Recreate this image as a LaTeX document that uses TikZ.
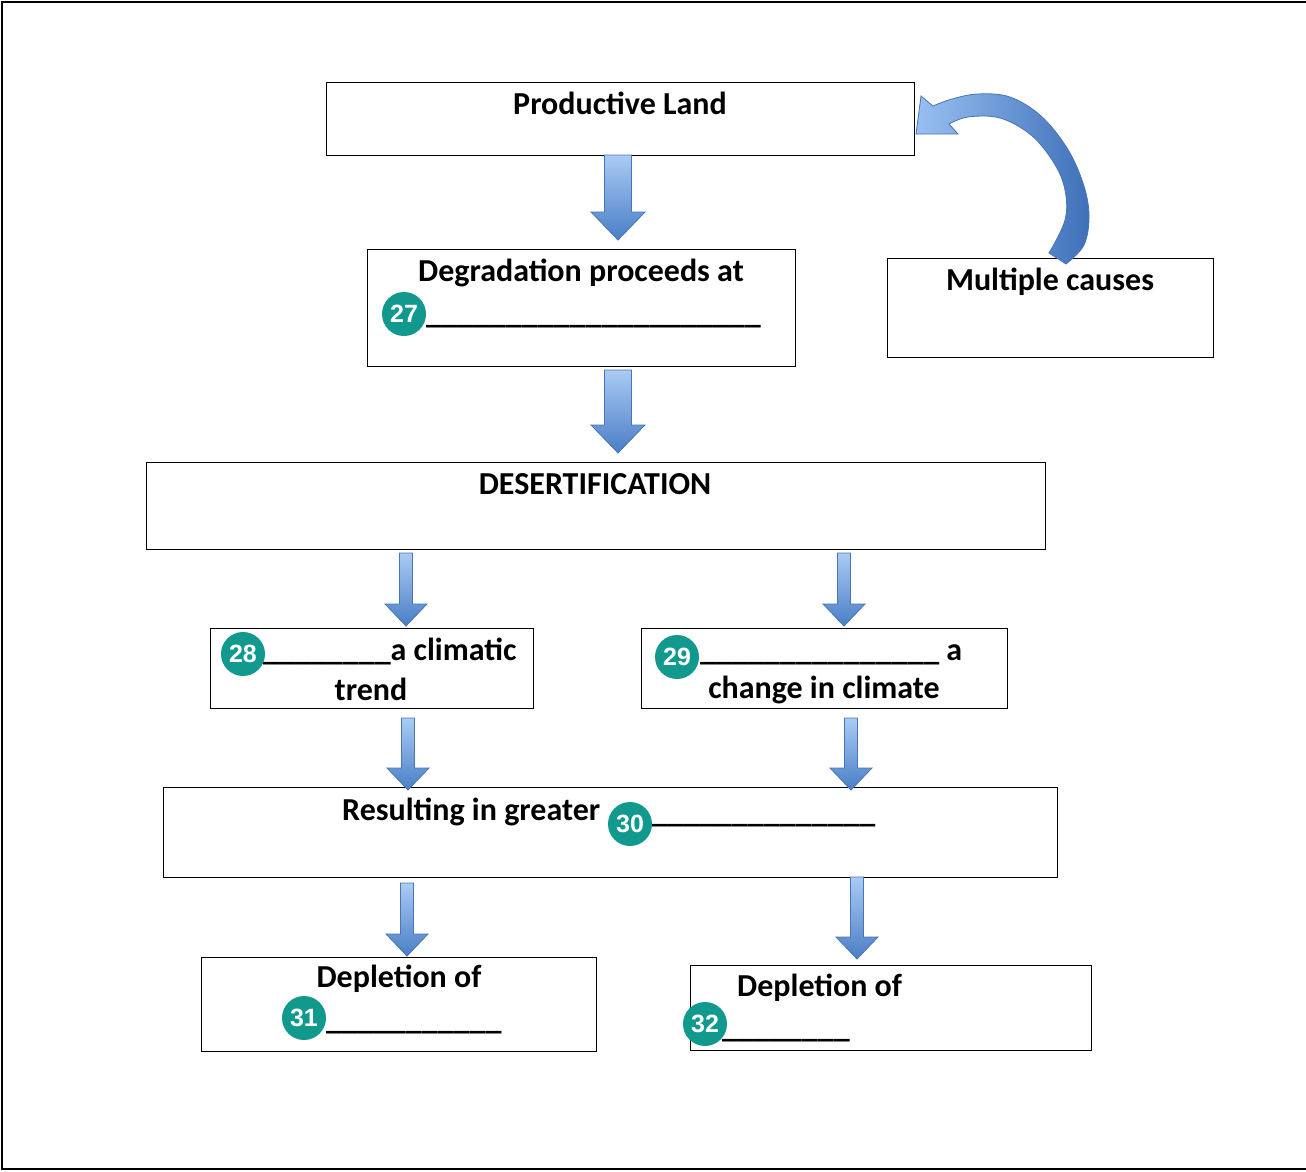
\documentclass[tikz,border=0pt]{standalone}
\usepackage{fontspec}
\setmainfont{Carlito}
\newfontfamily\numfont{Liberation Sans}
\definecolor{tealc}{HTML}{11998E}
\definecolor{arrtop}{HTML}{AACBF4}
\definecolor{arrbot}{HTML}{4A7EC6}
\definecolor{arredge}{HTML}{4775B6}
\definecolor{curvlight}{HTML}{98C0F2}
\definecolor{curvdark}{HTML}{3F70B8}
\newcommand\barrowbig[3]{%
  \path[arrowfill] (#1-13.5,#2) -- (#1+13.5,#2) -- (#1+13.5,#3-28) -- (#1+27,#3-28) -- (#1,#3) -- (#1-27,#3-28) -- (#1-13.5,#3-28) -- cycle;}
\newcommand\barrowsmall[3]{%
  \path[arrowfill] (#1-6.5,#2) -- (#1+6.5,#2) -- (#1+6.5,#3-22) -- (#1+21,#3-22) -- (#1,#3) -- (#1-21,#3-22) -- (#1-6.5,#3-22) -- cycle;}
\begin{document}
\begin{tikzpicture}[x=1pt,y=-1pt,
  box/.style={draw=black, line width=1.6pt, anchor=north west, inner sep=0pt},
  lbl/.style={font=\fontsize{32}{38}\selectfont\bfseries, inner sep=0pt, anchor=base},
  lblw/.style={lbl, anchor=base west},
  num/.style={circle, fill=tealc, text=white, minimum size=44pt, inner sep=0pt,
    font=\numfont\bfseries\fontsize{25}{25}\selectfont},
  arrowfill/.style={top color=arrtop, bottom color=arrbot, draw=arredge, line width=0.8pt}]
\useasboundingbox (0,0) rectangle (1306,1172);
\fill[white] (0,0) rectangle (1306,1172);
% outer frame
\draw[line width=2pt] (1320,2) -- (2,2) -- (2,1169) -- (1320,1169);

% boxes
\node[box, minimum width=588pt, minimum height=73pt] (pl) at (325.5,81.5) {};
\node[box, minimum width=428pt, minimum height=117pt] (deg) at (366.5,248.5) {};
\node[box, minimum width=326pt, minimum height=99pt] (mc) at (886.5,257.5) {};
\node[box, minimum width=899pt, minimum height=87pt] (des) at (145.5,461.5) {};
\node[box, minimum width=323pt, minimum height=80pt] (b28) at (209.5,627.5) {};
\node[box, minimum width=366pt, minimum height=80pt] (b29) at (640.5,627.5) {};
\node[box, minimum width=894pt, minimum height=90pt] (res) at (162.5,786.5) {};
\node[box, minimum width=395pt, minimum height=94pt] (d31) at (200.5,956.5) {};
\node[box, minimum width=401pt, minimum height=85pt] (d32) at (689.5,964.5) {};

% labels
\node[lbl] (tpl) at (620,114) {Productive Land};
\node[lbl] (tdeg) at (581,281) {Degradation proceeds at};
\node[lblw] (u27) at (426,323) {\_\_\_\_\_\_\_\_\_\_\_\_\_\_\_\_\_\_\_\_\_};
\node[lbl] (tmc) at (1050,290) {Multiple causes};
\node[lbl] (tdes) at (595,494) {DESERTIFICATION};
\node[lblw] (t28) at (263,660) {\_\_\_\_\_\_\_\_a climatic};
\node[lbl] (t28b) at (371,700) {trend};
\node[lblw] (t29) at (700,660) {\_\_\_\_\_\_\_\_\_\_\_\_\_\_\_ a};
\node[lbl] (t29b) at (824,698) {change in climate};
\node[lblw] (t30) at (342,820) {Resulting in greater};
\node[lblw] (u30) at (652,822) {\_\_\_\_\_\_\_\_\_\_\_\_\_\_};
\node[lbl] (t31) at (399,987) {Depletion of};
\node[lblw] (u31) at (326,1029) {\_\_\_\_\_\_\_\_\_\_\_};
\node[lblw] (t32) at (737,996) {Depletion of};
\node[lblw] (u32) at (722,1037) {\_\_\_\_\_\_\_\_};

% numbered circles
\node[num] (c27) at (404,314) {27};
\node[num] (c28) at (243,654) {28};
\node[num] (c29) at (677,657) {29};
\node[num] (c30) at (630,824) {30};
\node[num] (c31) at (304,1018) {31};
\node[num] (c32) at (705,1024) {32};

% block arrows
\barrowbig{618}{155}{240}
\barrowbig{618}{370}{453}
\barrowsmall{406}{553}{626}
\barrowsmall{844}{553}{626}
\barrowsmall{408}{718}{790}
\barrowsmall{851}{718}{790}
\barrowsmall{407}{883}{956}
\barrowsmall{857}{877}{959}

% curved arrow from Multiple causes to Productive Land
\path[left color=curvlight, right color=curvdark, draw=arredge, line width=0.8pt]
  (1066,264)
  -- plot[smooth, tension=0.6] coordinates {(1066,264) (1084,245) (1089,215) (1083,183) (1067,148) (1041,116) (1010,97) (978,94) (952,99) (933,106)}
  -- (921,96) -- (916,134) -- (958,134) -- (949,124)
  -- plot[smooth, tension=0.6] coordinates {(949,124) (968,117) (1000,118) (1031,135) (1054,163) (1065,190) (1065,220) (1049,253)}
  -- cycle;
\end{tikzpicture}
\end{document}
